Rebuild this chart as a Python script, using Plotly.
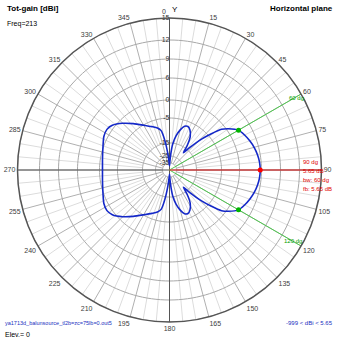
import numpy as np
import plotly.graph_objects as go

# ---------------- data ----------------
# gain pattern in the horizontal plane (compass degrees, dBi)
theta_deg = [0, 2, 4, 7, 11, 15, 19, 23, 27, 32, 36, 39, 42, 46, 49, 52, 55, 60, 65, 70, 75, 80, 85, 90,
             95, 100, 105, 110, 115, 120, 125, 128, 131, 134, 138, 141, 144, 148, 153, 157, 161, 165, 169,
             173, 176, 178, 180,
             183, 186, 189, 192, 196, 202, 210, 218, 225, 232, 237, 243, 250, 260, 270,
             280, 290, 297, 303, 308, 315, 322, 330, 338, 344, 348, 351, 354, 357, 360]
gain_dbi = [-45, -35, -25, -15.8, -11.8, -9.2, -7.3, -6.9, -7.8, -10.2, -13.8, -18.8, -13.8, -8.0, -4.2, -1.1,
            0.55, 2.65, 3.5, 4.2, 4.8, 5.25, 5.55, 5.65,
            5.55, 5.25, 4.8, 4.2, 3.5, 2.65, 0.55, -1.1, -4.2, -8.0, -13.8, -18.8, -13.8, -10.2, -7.8, -6.9,
            -7.3, -9.2, -11.8, -15.8, -25, -35, -45,
            -33.6, -22.7, -13.8, -9.7, -8.3, -7.1, -5.1, -3.1, -1.1, 0.7, 1.25, 1.0, 0.2, -0.55, -0.83,
            -0.55, 0.2, 1.0, 1.25, 0.7, -1.1, -3.1, -5.1, -7.1, -8.3, -9.7, -13.8, -22.7, -33.6, -45]

max_dir = 90
max_gain = 5.65
bw_dirs = [60, 120]
bw_gain = 2.65

ring_labels = [15, 12, 9, 6, 0, -5, -15, -25, -35]
angle_ticks = list(range(0, 360, 15))

# radial scale of the chart (dB -> drawing radius)
scale_db = [-60, -35, -25, -15, -5, 0, 6, 9, 12, 15]
scale_r = [0, 7, 14, 27, 52, 70, 92, 111, 130, 152]
R_MAX = 152


def rad(db):
    return np.interp(np.asarray(db, dtype=float), scale_db, scale_r)


W = H = 339
FONT = "Liberation Sans, Arial, sans-serif"

fig = go.Figure()

# ---- grid ----
def spokes(step, r0, color, width, skip=None):
    th, rr = [], []
    for a in range(0, 360, step):
        if skip and a % skip == 0:
            continue
        th += [a, a, None]
        rr += [r0, R_MAX, None]
    fig.add_trace(go.Scatterpolar(theta=th, r=rr, mode="lines", line=dict(color=color, width=width),
                                  hoverinfo="skip", showlegend=False))

spokes(5, float(rad(-15)), "#dcdcdc", 1, skip=15)
spokes(15, float(rad(-35)), "#b0b0b0", 1)

circ = np.arange(0, 361, 2)
th, rr = [], []
for d in ring_labels:
    th += list(circ) + [None]
    rr += [float(rad(d))] * len(circ) + [None]
fig.add_trace(go.Scatterpolar(theta=th, r=rr, mode="lines", line=dict(color="#a8a8a8", width=1),
                              hoverinfo="skip", showlegend=False))

# main axes
fig.add_trace(go.Scatterpolar(theta=[0, 0, 180, None, 90, 90, 270], r=[R_MAX, 0, R_MAX, None, R_MAX, 0, R_MAX],
                              mode="lines", line=dict(color="#555555", width=1), hoverinfo="skip", showlegend=False))

# beam lines
fig.add_trace(go.Scatterpolar(theta=[bw_dirs[0], bw_dirs[0], None, bw_dirs[1], bw_dirs[1]],
                              r=[0, R_MAX, None, 0, R_MAX], mode="lines",
                              line=dict(color="#50c850", width=1), hoverinfo="skip", showlegend=False))
fig.add_trace(go.Scatterpolar(theta=[max_dir, max_dir], r=[0, R_MAX], mode="lines",
                              line=dict(color="#ff3030", width=1), hoverinfo="skip", showlegend=False))

# radial labels
fig.add_trace(go.Scatterpolar(theta=[0] * len(ring_labels), r=rad(ring_labels), mode="text",
                              text=[str(v) for v in ring_labels], textposition="middle left",
                              textfont=dict(family=FONT, size=7, color="#303030"),
                              hoverinfo="skip", showlegend=False))

# pattern
fig.add_trace(go.Scatterpolar(theta=theta_deg, r=rad(gain_dbi), mode="lines",
                              line=dict(color="#1428c8", width=1.6, shape="spline", smoothing=0.6),
                              hoverinfo="skip", showlegend=False))

# markers
fig.add_trace(go.Scatterpolar(theta=bw_dirs, r=rad([bw_gain, bw_gain]), mode="markers",
                              marker=dict(color="#00b400", size=5), hoverinfo="skip", showlegend=False))
fig.add_trace(go.Scatterpolar(theta=[max_dir], r=rad([max_gain]), mode="markers",
                              marker=dict(color="#ff0000", size=5), hoverinfo="skip", showlegend=False))

cx, cy = 169.5, 170
fig.update_layout(
    width=W, height=H, margin=dict(l=0, r=0, t=0, b=0),
    paper_bgcolor="white", plot_bgcolor="white",
    polar=dict(
        domain=dict(x=[(cx - R_MAX) / W, (cx + R_MAX) / W], y=[(H - cy - R_MAX) / H, (H - cy + R_MAX) / H]),
        bgcolor="white",
        radialaxis=dict(range=[0, R_MAX], visible=False),
        angularaxis=dict(rotation=90, direction="clockwise", tickvals=angle_ticks,
                         ticktext=["" if a == 0 else str(a) for a in angle_ticks],
                         showgrid=False, showline=True, linecolor="#555555", linewidth=1.5,
                         ticks="", tickfont=dict(family=FONT, size=7, color="#404040")),
    ),
    showlegend=False,
)


def ann(x, y, text, size=7, color="black", xanchor="left", yanchor="middle"):
    fig.add_annotation(x=x / W, y=1 - y / H, xref="paper", yref="paper", text=text, showarrow=False,
                       xanchor=xanchor, yanchor=yanchor, font=dict(family=FONT, size=size, color=color))


ann(5, 8, "<b>Tot-gain [dBi]</b>", size=8)
ann(5, 24, "Freq=213", size=7)
ann(335, 8, "<b>Horizontal plane</b>", size=8, xanchor="right")
ann(164, 11, "0", size=7, color="#404040", xanchor="center")
ann(175, 10, "Y", size=8, xanchor="center")

red = "#e00000"
ann(301, 162, f"{max_dir} dg", size=6, color=red)
ann(301, 171, f"{max_gain} dB", size=6, color=red)
ann(301, 180, f"bw: {bw_dirs[1] - bw_dirs[0]} dg", size=6, color=red)
ann(301, 189, f"fb: {max_gain} dB", size=6, color=red)
ann(296, 98, f"{bw_dirs[0]} dg", size=6, color="#00a000", xanchor="center")
ann(293, 241, f"{bw_dirs[1]} dg", size=6, color="#00a000", xanchor="center")

ann(3, 323, "ya1713d_balunsource_tl2b=zc=75lb=0.out5", size=5.5, color="#2030c0")
ann(3, 334, "Elev.= 0", size=7)
ann(335, 323, f"-999 < dBi < {max_gain}", size=6, color="#2030c0", xanchor="right")

fig.write_html("out.html")
